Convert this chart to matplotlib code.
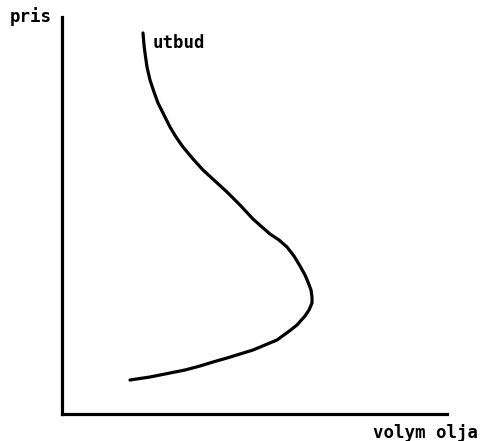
import numpy as np
import matplotlib.pyplot as plt

# utbudskurva (volym, pris)
volym = [81, 82, 83, 85, 88, 92, 96, 102, 108, 114, 121, 131, 141, 153, 165, 178, 191,
         200, 208, 217, 225, 232, 238, 243, 246, 249, 250, 250, 247, 243, 235, 226, 215,
         203, 191, 178, 165, 151, 138, 123, 108, 88, 68]
pris = [381, 369, 361, 347, 334, 322, 311, 299, 287, 277, 267, 255, 244, 233, 222, 209, 195,
        187, 180, 174, 167, 158, 148, 139, 132, 124, 117, 111, 104, 98, 89, 82, 74,
        69, 64, 60, 56, 52, 48, 44, 41, 37, 34]

fig = plt.figure(figsize=(4.84, 4.41), dpi=100)
ax = fig.add_axes([62 / 484, 27 / 441, 385 / 484, 397 / 441])

ax.plot(volym, pris, color="black", lw=2.3, solid_capstyle="round", solid_joinstyle="round")

ax.set_xlim(0, 385)
ax.set_ylim(0, 397)
for s in ["top", "right"]:
    ax.spines[s].set_visible(False)
for s in ["left", "bottom"]:
    ax.spines[s].set_linewidth(2.3)
ax.set_xticks([])
ax.set_yticks([])

font = dict(family="DejaVu Sans Mono", fontweight="bold", fontsize=12.5)
fig.text(10 / 484, 1 - 17 / 441, "pris", ha="left", va="center", **font)
fig.text(478 / 484, 1 - 433 / 441, "volym olja", ha="right", va="center", **font)
ax.text(91, 371, "utbud", ha="left", va="center", **font)

fig.savefig("out.png", dpi=100)
